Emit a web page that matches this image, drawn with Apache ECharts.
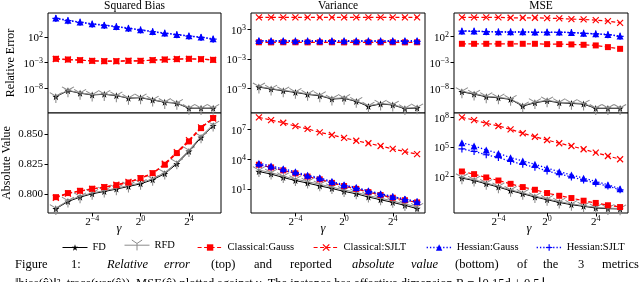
<!DOCTYPE html>
<html><head><meta charset="utf-8">
<script src="https://cdn.jsdelivr.net/npm/echarts@6/dist/echarts.min.js"></script>
<style>html,body{margin:0;padding:0;background:#fff}#c{width:640px;height:282px}</style>
</head><body><div id="c"></div><script>
// ---------------- data ----------------
const gamma = [0.0078125, 0.015625, 0.03125, 0.0625, 0.125, 0.25, 0.5, 1, 2, 4, 8, 16, 32, 64];
const seriesNames = ['FD', 'RFD', 'Classical:Gauss', 'Classical:SJLT', 'Hessian:Gauss', 'Hessian:SJLT'];
const panelTitles = ['Squared Bias', 'Variance', 'MSE'];
const xTicks = [-4, 0, 4];            // exponents of 2
// top row: relative error
const biasFD  = [2.6e-10, 3.7e-9, 1.2e-9, 5.5e-10, 7.4e-10, 4.0e-10, 1.3e-10, 1.6e-10, 5.9e-11, 2.1e-11, 1.35e-11, 1.45e-12, 1.45e-12, 1.45e-12];
const biasRFD = [3.2e-10, 4.4e-9, 1.4e-9, 6.5e-10, 8.5e-10, 4.6e-10, 1.5e-10, 1.9e-10, 7.0e-11, 2.4e-11, 1.6e-11, 1.7e-12, 1.6e-12, 1.7e-12];
const biasCG  = [5.4e-3, 4.0e-3, 3.0e-3, 2.2e-3, 1.9e-3, 1.9e-3, 2.2e-3, 2.2e-3, 3.0e-3, 4.0e-3, 4.7e-3, 5.4e-3, 4.7e-3, 3.4e-3];
const biasCS  = [5.1e-3, 3.8e-3, 3.1e-3, 2.1e-3, 2.0e-3, 1.8e-3, 2.3e-3, 2.1e-3, 3.1e-3, 3.8e-3, 4.9e-3, 5.2e-3, 4.5e-3, 3.5e-3];
const biasHG  = [4.3e5, 1.5e5, 7.1e4, 3.3e4, 1.9e4, 1.0e4, 4.9e3, 2.3e3, 1.1e3, 5.2e2, 2.8e2, 1.5e2, 87, 41];
const biasHS  = [3.5e5, 1.3e5, 6.3e4, 2.8e4, 1.6e4, 8.5e3, 4.2e3, 2.0e3, 9.3e2, 4.6e2, 2.5e2, 1.3e2, 76, 35];
const varFD   = [1.74e-9, 6.9e-10, 3.1e-10, 1.41e-10, 5.5e-11, 3.0e-11, 6.3e-12, 8.5e-12, 2.1e-12, 2.0e-13, 6.2e-13, 3.9e-13, 6.8e-14, 9.5e-14];
const varRFD  = [2.3e-9, 8.5e-10, 3.9e-10, 1.8e-10, 7.0e-11, 3.8e-11, 8.0e-12, 1.1e-11, 2.6e-12, 2.8e-13, 7.5e-13, 4.8e-13, 8.5e-14, 1.2e-13];
const varCG   = [2.5, 2.4, 2.5, 2.5, 2.4, 2.5, 2.5, 2.4, 2.5, 2.5, 2.4, 2.5, 2.4, 2.5];
const varCS   = [3.0e5, 3.0e5, 3.1e5, 3.0e5, 3.0e5, 3.0e5, 3.1e5, 3.0e5, 3.0e5, 3.0e5, 3.1e5, 3.0e5, 3.0e5, 3.0e5];
const varHG   = [5.5, 5.2, 5.3, 5.2, 5.1, 5.2, 5.2, 5.1, 5.2, 5.1, 5.2, 5.1, 5.2, 5.1];
const varHS   = [4.2, 4.0, 4.1, 4.0, 4.0, 4.1, 4.0, 3.9, 4.0, 4.0, 4.0, 3.9, 4.0, 4.0];
const mseFD   = [2.2e-9, 8.1e-10, 2.5e-10, 1.6e-10, 7.9e-11, 4.2e-12, 1.8e-11, 4.3e-11, 1.8e-11, 1.35e-11, 1.0e-11, 1.5e-12, 1.5e-12, 1.5e-12];
const mseRFD  = [2.9e-9, 1.0e-9, 3.2e-10, 2.0e-10, 1.0e-10, 5.5e-12, 2.3e-11, 5.4e-11, 2.3e-11, 1.7e-11, 1.3e-11, 1.8e-12, 1.8e-12, 1.8e-12];
const mseCG   = [3.4, 3.4, 3.4, 3.4, 3.4, 3.4, 3.4, 2.95, 2.95, 2.6, 2.2, 1.66, 0.79, 0.37];
const mseCS   = [3.8e5, 3.8e5, 3.8e5, 3.8e5, 3.2e5, 3.2e5, 3.2e5, 2.75e5, 2.4e5, 1.8e5, 1.55e5, 1.15e5, 7.4e4, 3.5e4];
const mseHG   = [1.0e3, 9.1e2, 7.9e2, 6.6e2, 6.6e2, 6.6e2, 5.8e2, 5.8e2, 5.8e2, 5.1e2, 3.7e2, 2.8e2, 2.1e2, 1.0e2];
const mseHS   = [9.0e2, 8.3e2, 7.2e2, 6.2e2, 6.0e2, 6.1e2, 5.3e2, 5.4e2, 5.3e2, 4.7e2, 3.4e2, 2.6e2, 1.9e2, 9.0e1];
// bottom row: absolute value
const absBiasFD  = [0.7875, 0.7936, 0.7972, 0.8000, 0.8019, 0.8039, 0.8061, 0.8083, 0.8117, 0.8167, 0.8250, 0.8353, 0.8469, 0.8567];
const absBiasRFD = [0.7881, 0.7943, 0.7979, 0.8007, 0.8026, 0.8046, 0.8069, 0.8091, 0.8125, 0.8177, 0.8261, 0.8363, 0.8479, 0.8576];
const absBiasCG  = [0.7972, 0.8006, 0.8025, 0.8042, 0.8056, 0.8072, 0.8094, 0.8131, 0.8172, 0.8242, 0.8339, 0.8436, 0.8547, 0.8631];
const absBiasCS  = [0.7967, 0.8002, 0.8022, 0.8040, 0.8055, 0.8075, 0.8099, 0.8128, 0.8170, 0.8250, 0.8347, 0.8447, 0.8553, 0.8627];
const absVarFD  = [5.8e2, 3.2e2, 1.45e2, 72, 40, 21, 11.5, 5.8, 3.4, 1.6, 0.85, 0.46, 0.23, 0.11];
const absVarRFD = [8.1e2, 4.5e2, 2.0e2, 1.0e2, 56, 30, 16, 8.1, 4.8, 2.2, 1.2, 0.65, 0.32, 0.16];
const absVarCG  = [2.8e3, 1.5e3, 7.6e2, 3.8e2, 1.8e2, 95, 42, 20, 10.5, 5.0, 2.5, 1.35, 0.76, 0.46];
const absVarCS  = [1.6e8, 8.5e7, 4.6e7, 2.1e7, 1.1e7, 5.0e6, 2.7e6, 1.4e6, 7.2e5, 4.0e5, 2.1e5, 1.1e5, 5.8e4, 3.2e4];
const absVarHG  = [4.0e3, 2.1e3, 1.1e3, 5.4e2, 2.5e2, 1.35e2, 58, 27, 14.5, 6.8, 3.4, 1.8, 1.0, 0.58];
const absVarHS  = [2.8e3, 1.6e3, 8.5e2, 4.2e2, 2.0e2, 1.07e2, 48, 22, 12, 5.8, 2.9, 1.6, 0.89, 0.5];
const absMseFD  = [65, 37, 17, 7.9, 3.4, 1.66, 0.76, 0.41, 0.21, 0.126, 0.085, 0.058, 0.049, 0.046];
const absMseRFD = [80, 45, 21, 9.5, 4.2, 2.0, 0.95, 0.5, 0.26, 0.15, 0.1, 0.068, 0.056, 0.052];
const absMseCG  = [3.1e2, 1.66e2, 76, 37, 17, 7.9, 4.2, 1.95, 1.02, 0.60, 0.32, 0.19, 0.11, 0.072];
const absMseCS  = [1.05e8, 5.6e7, 2.6e7, 1.4e7, 6.3e6, 2.5e6, 1.1e6, 5.1e5, 2.4e5, 1.26e5, 5.8e4, 2.6e4, 1.2e4, 5.6e3];
const absMseHG  = [2.75e5, 1.26e5, 4.9e4, 2.2e4, 8.1e3, 3.7e3, 1.74e3, 6.8e2, 3.0e2, 1.4e2, 65, 30, 13.5, 5.4];
const absMseHS  = [6.3e4, 3.5e4, 1.6e4, 8.3e3, 3.4e3, 1.66e3, 8.5e2, 3.5e2, 1.74e2, 85, 42, 20, 10, 4.2];
// y tick values (log10 exponents for log panels)
const yTicksTop = [[-8, -3, 2], [-9, -3, 3], [-8, -3, 2]];
const yTicksBottom = [[0.800, 0.825, 0.850], [1, 4, 7], [2, 5, 8]];

// ---------------- layout / style ----------------
const FONT = 'Liberation Serif';
const RED = '#ff0000', BLUE = '#0000ff', GRAY = '#8c8c8c';
const STAR = 'path://M0,-10L2.35,-3.24L9.51,-3.09L3.8,1.24L5.88,8.09L0,4L-5.88,8.09L-3.8,1.24L-9.51,-3.09L-2.35,-3.24Z';
const TRID = 'path://M0,0L-8.66,-5M0,0L8.66,-5M0,0L0,10';
const XMK = 'path://M0,0L10,10M10,0L0,10';
const PLUS = 'path://M5,0L5,10M0,5L10,5';
const styles = {
  'FD': {symbol: STAR, symbolSize: 7, lineStyle: {color: '#000', width: 1}, itemStyle: {color: '#000', borderWidth: 0}},
  'RFD': {symbol: TRID, symbolSize: [12, 10.4], symbolOffset: [0, 1.7], lineStyle: {color: GRAY, width: 1}, itemStyle: {color: GRAY, borderColor: GRAY, borderWidth: 1}},
  'Classical:Gauss': {symbol: 'rect', symbolSize: 6, lineStyle: {color: RED, width: 1.2, type: [4, 2.5]}, itemStyle: {color: RED, borderWidth: 0}},
  'Classical:SJLT': {symbol: XMK, symbolSize: 6, lineStyle: {color: RED, width: 1.2, type: [4, 2.5]}, itemStyle: {color: RED, borderColor: RED, borderWidth: 1.2}},
  'Hessian:Gauss': {symbol: 'triangle', symbolSize: 7, lineStyle: {color: BLUE, width: 1.3, type: [1.3, 2]}, itemStyle: {color: BLUE, borderWidth: 0}},
  'Hessian:SJLT': {symbol: PLUS, symbolSize: 7, lineStyle: {color: BLUE, width: 1.3, type: [1.3, 2]}, itemStyle: {color: BLUE, borderColor: BLUE, borderWidth: 1.2}}
};
const cols = [{left: 48, width: 173}, {left: 251, width: 174}, {left: 454, width: 174}];
const rows = [{top: 13, height: 100}, {top: 113, height: 100}];
const panels = [
  // row 0
  {r: 0, c: 0, log: true, min: -12.75, max: 6.6, ticks: yTicksTop[0], data: [biasFD, biasRFD, biasCG, biasCS, biasHG, biasHS]},
  {r: 0, c: 1, log: true, min: -14.05, max: 6.38, ticks: yTicksTop[1], data: [varFD, varRFD, varCG, varCS, varHG, varHS]},
  {r: 0, c: 2, log: true, min: -12.7, max: 6.42, ticks: yTicksTop[2], data: [mseFD, mseRFD, mseCG, mseCS, mseHG, mseHS]},
  // row 1
  {r: 1, c: 0, log: false, min: 0.7840, max: 0.8673, ticks: yTicksBottom[0], data: [absBiasFD, absBiasRFD, absBiasCG, absBiasCS, null, null]},
  {r: 1, c: 1, log: true, min: -1.4, max: 8.64, ticks: yTicksBottom[1], data: [absVarFD, absVarRFD, absVarCG, absVarCS, absVarHG, absVarHS]},
  {r: 1, c: 2, log: true, min: -1.75, max: 8.47, ticks: yTicksBottom[2], data: [absMseFD, absMseRFD, absMseCG, absMseCS, absMseHG, absMseHS]}
];
const sup = v => String(Math.round(v)).replace('-', '\u2212');
const rich = {
  b: {fontFamily: FONT, fontSize: 11, lineHeight: 11, padding: [3, 0, 0, 0], color: '#000'},
  s: {fontFamily: FONT, fontSize: 8, lineHeight: 8, verticalAlign: 'top', color: '#000'}
};

const grid = [], xAxis = [], yAxis = [], series = [];
panels.forEach((p, i) => {
  grid.push({left: cols[p.c].left, width: cols[p.c].width, top: rows[p.r].top, height: rows[p.r].height,
    show: true, borderColor: '#000', borderWidth: 1, backgroundColor: '#fff', containLabel: false});
  const bottom = p.r === 1;
  xAxis.push({type: 'value', gridIndex: i, min: -7.65, max: 6.65, position: 'bottom',
    axisLine: {show: false, onZero: false}, splitLine: {show: false},
    axisTick: {show: bottom, inside: false, length: 3.5, customValues: xTicks, lineStyle: {color: '#000', width: 1}},
    axisLabel: {show: bottom, customValues: xTicks, margin: 2, formatter: v => '{b|2}{s|' + sup(v) + '}', rich: rich}
  });
  yAxis.push({type: 'value', gridIndex: i, min: p.min, max: p.max, position: 'left',
    axisLine: {show: false, onZero: false}, splitLine: {show: false},
    axisTick: {show: true, inside: false, length: 3.5, customValues: p.ticks, lineStyle: {color: '#000', width: 1}},
    axisLabel: {show: true, customValues: p.ticks, margin: 5,
      formatter: p.log ? (v => '{b|10}{s|' + sup(v) + '}') : (v => '{b|' + v.toFixed(3) + '}'),
      rich: p.log ? rich : {b: {fontFamily: FONT, fontSize: 11, color: '#000'}}}
  });
  p.data.forEach((vals, k) => {
    if (!vals) return;
    const name = seriesNames[k];
    const st = styles[name];
    series.push(Object.assign({
      type: 'line', name: name, xAxisIndex: i, yAxisIndex: i, showAllSymbol: true, silent: true,
      animation: false, emphasis: {disabled: true}, z: 2 + k,
      data: vals.map((v, j) => [Math.log2(gamma[j]), p.log ? Math.log10(v) : v])
    }, st));
  });
});

// legends (one per entry, placed like the reference)
const legendLeft = [57, 119, 192, 308, 421, 531];
const legend = seriesNames.map((n, k) => {
  const ih = n === 'RFD' ? 13 : 8;
  const st = styles[n];
  return {left: legendLeft[k], top: 241 - ih / 2, itemWidth: 25, itemHeight: ih, itemGap: 0,
    selectedMode: false, data: [{name: n, itemStyle: st.itemStyle, lineStyle: st.lineStyle}],
    textStyle: {fontFamily: FONT, fontSize: 10.5, color: '#000'}};
});

const T = (text, x, y, extra) => ({type: 'text', x: x, y: y, silent: true,
  style: Object.assign({text: text, fontFamily: FONT, fontSize: 11, fill: '#000', textAlign: 'center', textVerticalAlign: 'middle'}, extra || {})});
const graphic = [];
panelTitles.forEach((t, c) => graphic.push(T(t, cols[c].left + cols[c].width / 2, 6, {fontSize: 11.5})));
graphic.push(Object.assign(T('Relative Error', 11, 63, {fontSize: 12}), {rotation: Math.PI / 2}));
graphic.push(Object.assign(T('Absolute Value', 6.5, 163, {fontSize: 12}), {rotation: Math.PI / 2}));
[119, 323, 529].forEach(x => graphic.push(T('\u03b3', x, 229, {fontSize: 12.5, fontStyle: 'italic'})));
const captionWords = [['Figure', 15], ['1:', 71], ['Relative', 107, 1], ['error', 164, 1], ['(top)', 211], ['and', 254],
  ['reported', 290], ['absolute', 352, 1], ['value', 411, 1], ['(bottom)', 455], ['of', 517], ['the', 543], ['3', 578], ['metrics', 602]];
captionWords.forEach(w => graphic.push(T(w[0], w[1], 265, {fontSize: 12.5, textAlign: 'left', fontStyle: w[2] ? 'italic' : 'normal'})));
graphic.push(T('\u2016bias(x\u0302)\u2016\u00b2, trace(var(x\u0302)), MSE(x\u0302) plotted against \u03b3. The instance has effective dimension R = \u230a0.15d + 0.5\u230b',
  15, 284, {fontSize: 12.5, textAlign: 'left'}));

const chart = echarts.init(document.getElementById('c'), null, {renderer: 'canvas'});
chart.setOption({animation: false, backgroundColor: '#fff', grid, xAxis, yAxis, series, legend, graphic});
</script></body></html>
